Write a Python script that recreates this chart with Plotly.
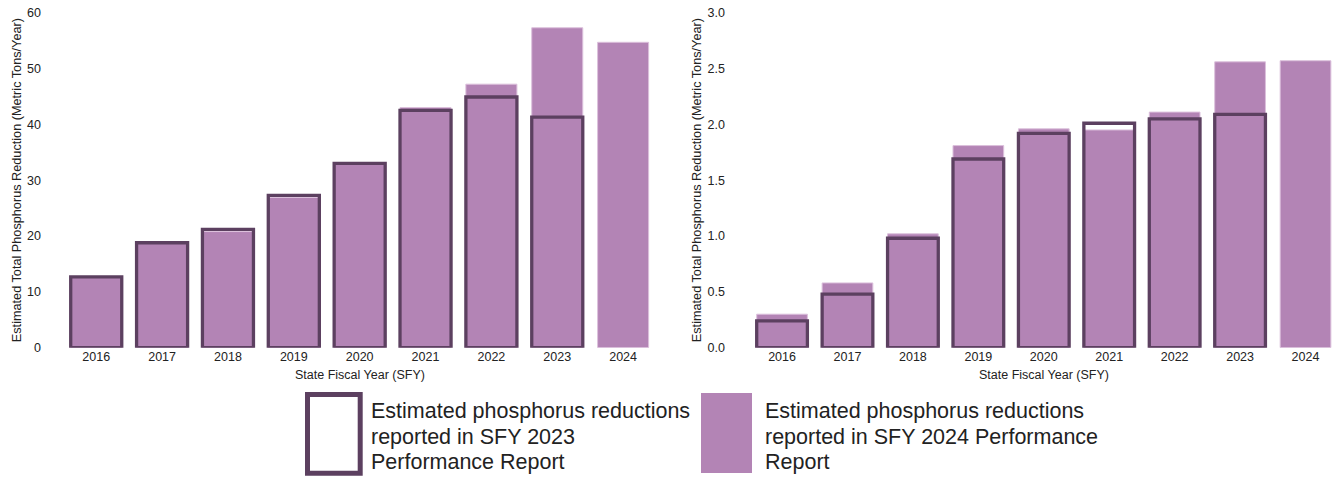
import plotly.graph_objects as go

W, H = 1333, 478

years = ["2016", "2017", "2018", "2019", "2020", "2021", "2022", "2023", "2024"]

# Left panel (scale 0-60)
left_2024_report = [12.7, 18.8, 20.8, 26.9, 33.0, 43.0, 47.2, 57.3, 54.7]
left_2023_report = [12.7, 18.8, 21.2, 27.3, 33.0, 42.5, 44.9, 41.3, None]

# Right panel (scale 0-3)
right_2024_report = [0.30, 0.58, 1.02, 1.81, 1.96, 1.95, 2.11, 2.56, 2.57]
right_2023_report = [0.24, 0.48, 0.98, 1.69, 1.92, 2.01, 2.05, 2.09, None]

left_yticks = [0, 10, 20, 30, 40, 50, 60]
right_yticks = [0.0, 0.5, 1.0, 1.5, 2.0, 2.5, 3.0]

legend_2023 = ["Estimated phosphorus reductions", "reported in SFY 2023", "Performance Report"]
legend_2024 = ["Estimated phosphorus reductions", "reported in SFY 2024 Performance", "Report"]
y_title = "Estimated Total Phosphorus Reduction (Metric Tons/Year)"
x_title = "State Fiscal Year (SFY)"

FILL = "#B384B5"
FILL_EDGE = "#DCC0DC"
OUTLINE = "#5C4060"
FONT = "Liberation Sans, Arial, sans-serif"
TXT = "#222222"
BW = 0.775

fig = go.Figure()

for xa, ya, fillv, outv in [("x", "y", left_2024_report, left_2023_report),
                            ("x2", "y2", right_2024_report, right_2023_report)]:
    fig.add_trace(go.Bar(x=years, y=fillv, width=BW, xaxis=xa, yaxis=ya,
                         marker=dict(color=FILL, line=dict(color=FILL_EDGE, width=1)),
                         showlegend=False, hoverinfo="x+y"))
    fig.add_trace(go.Bar(x=years, y=outv, width=BW, xaxis=xa, yaxis=ya,
                         marker=dict(color="rgba(0,0,0,0)", line=dict(color=OUTLINE, width=3.3)),
                         showlegend=False, hoverinfo="x+y"))

ydom = [(478 - 347.7) / H, (478 - 12.7) / H]

common_x = dict(type="category", showgrid=False, zeroline=False, showline=False,
                ticks="", automargin=False, tickfont=dict(family=FONT, size=12.5, color=TXT))
common_y = dict(showgrid=False, zeroline=False, showline=False, ticks="", automargin=False,
                tickfont=dict(family=FONT, size=12.5, color=TXT), domain=ydom)

fig.update_layout(
    width=W, height=H,
    margin=dict(l=0, r=0, t=0, b=0, pad=0, autoexpand=False),
    paper_bgcolor="white", plot_bgcolor="white",
    barmode="overlay",
    bargap=0.2,
    xaxis=dict(domain=[44 / W, 660 / W], range=[-0.793, 8.56], anchor="y", **common_x),
    yaxis=dict(range=[0, 60], tickvals=left_yticks, anchor="x", ticklabelstandoff=2, **common_y),
    xaxis2=dict(domain=[728 / W, 1.0], range=[-0.826, 8.42], anchor="y2", **common_x),
    yaxis2=dict(range=[0, 3.0], tickvals=right_yticks, tickformat=".1f", anchor="x2",
                ticklabelstandoff=2, **common_y),
    font=dict(family=FONT, color=TXT),
)

ymid = (ydom[0] + ydom[1]) / 2
annotations = [
    dict(text=y_title, xref="paper", yref="paper", x=17 / W, y=ymid, textangle=-90,
         showarrow=False, xanchor="center", yanchor="middle", font=dict(size=12.7, family=FONT, color=TXT)),
    dict(text=y_title, xref="paper", yref="paper", x=697 / W, y=ymid, textangle=-90,
         showarrow=False, xanchor="center", yanchor="middle", font=dict(size=12.7, family=FONT, color=TXT)),
    dict(text=x_title, xref="x", yref="paper", x=4, y=1 - 375 / H, showarrow=False,
         xanchor="center", yanchor="middle", font=dict(size=12.5, family=FONT, color=TXT)),
    dict(text=x_title, xref="x2", yref="paper", x=4, y=1 - 375 / H, showarrow=False,
         xanchor="center", yanchor="middle", font=dict(size=12.5, family=FONT, color=TXT)),
]
line_y = [411, 437, 462]
for lines, lx in [(legend_2023, 369), (legend_2024, 763)]:
    for t, py in zip(lines, line_y):
        annotations.append(dict(text=t, xref="paper", yref="paper", x=lx / W, y=1 - py / H,
                                showarrow=False, xanchor="left", yanchor="middle", align="left",
                                font=dict(size=21.5, family=FONT, color=TXT)))
fig.update_layout(annotations=annotations)

shapes = [
    dict(type="rect", xref="paper", yref="paper",
         x0=307.5 / W, x1=360.2 / W, y0=1 - 473.3 / H, y1=1 - 394.5 / H,
         line=dict(color=OUTLINE, width=5), fillcolor="white"),
    dict(type="rect", xref="paper", yref="paper",
         x0=701 / W, x1=752 / W, y0=1 - 473 / H, y1=1 - 393 / H,
         line=dict(width=0), fillcolor=FILL),
]
fig.update_layout(shapes=shapes)

fig.write_html("out.html", config={"displayModeBar": False},
               post_script="document.body.style.margin='0';document.body.style.overflow='hidden';")
